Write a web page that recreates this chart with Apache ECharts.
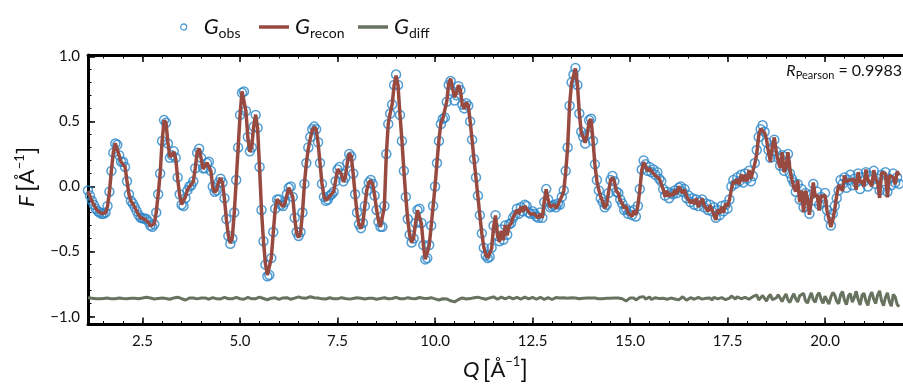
<!DOCTYPE html>
<html>
<head>
<meta charset="utf-8">
<script src="https://cdn.jsdelivr.net/npm/echarts@6/dist/echarts.min.js"></script>
<style>
  html, body { margin: 0; padding: 0; background: #fff; }
  #chart { width: 903px; height: 387px; }
</style>
</head>
<body>
<div id="chart"></div>
<script>
// Scattering data on a regular Q grid (Å^-1): first point and spacing
const Q_START = 1.10;
const Q_STEP = 0.05;

// Observed F(Q), one row per unit of Q (n.10 ... n+1.05)
const gObs = [
  -0.03,-0.07,-0.11,-0.14,-0.17,-0.19,-0.20,-0.21,-0.21,-0.20,-0.15,-0.04,0.12,0.26,0.33,0.32,0.24,0.19,0.19,0.15,
  0.04,-0.06,-0.11,-0.13,-0.16,-0.19,-0.22,-0.24,-0.245,-0.245,-0.25,-0.27,-0.30,-0.31,-0.29,-0.20,-0.06,0.10,0.35,0.51,
  0.49,0.33,0.22,0.24,0.27,0.22,0.07,-0.06,-0.14,-0.15,-0.09,-0.03,0.00,0.01,0.04,0.14,0.26,0.29,0.22,0.14,
  0.14,0.18,0.19,0.12,0.00,-0.04,-0.03,0.03,0.06,0.03,-0.09,-0.25,-0.38,-0.44,-0.40,-0.20,0.05,0.30,0.55,0.72,
  0.73,0.58,0.38,0.27,0.30,0.46,0.55,0.45,0.15,-0.18,-0.42,-0.60,-0.69,-0.68,-0.55,-0.35,-0.17,-0.10,-0.10,-0.14,
  -0.15,-0.12,-0.06,-0.01,0.00,-0.08,-0.24,-0.35,-0.38,-0.35,-0.20,0.02,0.18,0.30,0.38,0.44,0.46,0.44,0.34,0.18,
  0.02,-0.08,-0.11,-0.10,-0.07,-0.06,-0.04,0.04,0.13,0.15,0.10,0.04,0.07,0.18,0.25,0.23,0.10,-0.06,-0.20,-0.29,
  -0.32,-0.28,-0.15,-0.03,0.03,0.05,0.02,-0.07,-0.18,-0.27,-0.31,-0.31,-0.15,0.25,0.48,0.56,0.63,0.78,0.86,0.78,
  0.55,0.35,0.12,-0.08,-0.25,-0.37,-0.43,-0.40,-0.28,-0.18,-0.17,-0.28,-0.45,-0.56,-0.55,-0.45,-0.30,-0.15,0.00,0.18,
  0.35,0.48,0.52,0.53,0.65,0.78,0.81,0.73,0.66,0.70,0.77,0.74,0.63,0.60,0.64,0.62,0.50,0.36,0.21,0.07,
  -0.07,-0.22,-0.36,-0.47,-0.53,-0.55,-0.54,-0.47,-0.30,-0.22,-0.38,-0.42,-0.33,-0.41,-0.30,-0.37,-0.29,-0.28,-0.24,-0.22,
  -0.17,-0.21,-0.16,-0.19,-0.14,-0.15,-0.20,-0.21,-0.19,-0.21,-0.23,-0.24,-0.20,-0.24,-0.12,-0.02,-0.10,-0.16,-0.15,-0.14,
  -0.16,-0.13,-0.14,-0.08,-0.03,0.12,0.30,0.62,0.80,0.86,0.91,0.78,0.56,0.42,0.38,0.33,0.40,0.51,0.52,0.35,
  0.17,0.05,-0.03,-0.09,-0.12,-0.16,-0.14,-0.05,0.05,0.08,0.04,-0.04,-0.05,-0.10,-0.13,-0.18,-0.17,-0.21,-0.19,-0.22,
  -0.18,-0.23,-0.15,-0.02,0.13,0.20,0.17,0.12,0.15,0.11,0.13,0.09,0.11,0.06,0.04,-0.02,-0.07,-0.04,-0.09,-0.05,
  -0.06,-0.03,-0.05,-0.01,0.00,-0.04,-0.02,-0.09,-0.07,-0.12,-0.09,-0.14,-0.10,-0.15,-0.12,-0.10,-0.16,-0.13,-0.18,-0.14,
  -0.19,-0.16,-0.24,-0.18,-0.22,-0.15,-0.19,-0.14,-0.17,-0.10,0.00,0.05,0.02,0.07,0.04,0.09,0.03,0.10,0.06,0.12,
  0.04,0.08,0.18,0.28,0.38,0.44,0.47,0.42,0.34,0.28,0.22,0.30,0.36,0.27,0.22,0.16,0.24,0.12,0.18,0.25,
  0.10,0.06,0.03,-0.04,0.02,-0.10,-0.02,-0.16,-0.05,-0.13,-0.21,-0.06,0.02,-0.11,-0.04,-0.14,-0.08,-0.12,-0.05,-0.18,
  -0.24,-0.30,-0.21,-0.15,-0.09,-0.03,0.05,0.02,0.07,-0.01,0.05,0.09,0.01,0.06,0.03,0.10,-0.02,0.07,0.04,0.11,
  0.00,0.08,0.05,0.12,0.02,0.06,-0.03,0.09,0.04,0.11,-0.04,0.06,0.01,0.10,0.03,0.07,0.02
];

// Residual G_obs - G_recon on the same grid
const residual = [
  0.005,0.004,0.002,0.000,-0.002,-0.003,-0.003,-0.002,0.000,0.002,0.003,0.001,-0.003,-0.004,-0.002,0.001,0.003,0.002,0.000,-0.001,
  -0.002,-0.001,0.001,0.002,0.001,0.000,-0.002,0.000,0.003,0.006,0.009,0.008,0.003,-0.002,-0.004,-0.003,0.000,0.002,0.004,0.003,
  0.000,-0.004,-0.006,-0.002,0.004,0.008,0.010,0.006,-0.002,-0.010,-0.012,-0.005,0.003,0.006,0.004,0.000,-0.003,-0.001,0.003,0.006,
  0.004,-0.002,-0.006,0.000,0.007,0.005,-0.003,-0.008,-0.004,0.004,0.008,0.005,-0.002,-0.006,-0.003,0.004,0.009,0.006,-0.002,-0.010,
  -0.006,0.002,0.008,0.004,-0.003,-0.007,-0.002,0.006,0.010,0.007,0.000,-0.006,-0.010,-0.006,0.002,0.008,0.005,-0.002,-0.007,-0.003,
  0.004,0.009,0.006,-0.001,-0.006,-0.004,0.003,0.008,0.012,0.009,0.003,-0.002,0.002,0.008,0.013,0.010,0.005,0.002,0.004,0.001,
  -0.003,-0.006,-0.004,0.001,0.005,0.003,-0.002,-0.005,-0.003,0.002,0.006,0.004,0.000,-0.003,-0.005,-0.004,0.000,0.003,0.005,0.004,
  0.002,-0.002,-0.004,-0.003,0.001,0.004,0.002,-0.002,-0.006,-0.005,0.000,0.004,0.006,0.003,-0.002,-0.004,0.000,0.005,0.008,0.004,
  -0.002,-0.006,-0.003,0.002,0.006,0.004,0.000,-0.004,-0.002,0.003,0.007,0.005,0.001,-0.002,0.000,0.004,0.006,0.003,-0.003,-0.008,
  -0.012,-0.008,-0.002,0.003,-0.004,-0.012,-0.018,-0.022,-0.026,-0.018,-0.008,0.000,0.004,0.002,-0.004,-0.006,-0.001,0.004,0.006,0.008,
  0.010,0.006,0.001,-0.004,-0.006,-0.002,0.004,0.008,0.012,0.003,-0.006,0.005,0.010,0.002,-0.004,0.006,0.011,0.004,-0.003,0.005,
  0.009,0.002,-0.005,0.003,0.010,0.004,-0.004,0.002,0.008,0.001,-0.006,0.003,0.009,0.000,-0.007,0.002,0.006,-0.003,-0.008,0.001,
  0.007,0.012,0.004,-0.004,0.005,0.010,0.002,-0.006,0.006,0.012,0.004,-0.008,-0.002,0.007,0.002,-0.006,0.004,0.010,0.003,-0.005,
  0.004,0.008,-0.003,-0.010,-0.002,0.006,0.001,-0.008,0.002,0.010,0.004,-0.005,0.003,0.009,-0.002,-0.012,-0.020,-0.008,0.004,0.010,
  0.004,-0.012,-0.002,0.009,0.006,0.014,-0.005,0.001,0.011,-0.008,-0.003,0.006,0.013,-0.001,-0.010,0.002,0.009,-0.006,-0.012,0.003,
  0.010,-0.004,0.007,-0.011,0.002,0.013,0.004,-0.013,-0.002,0.006,0.015,-0.006,-0.010,0.008,0.003,-0.005,-0.015,0.001,0.011,0.004,
  -0.012,0.008,0.017,-0.003,-0.014,0.006,0.011,-0.009,-0.016,0.002,0.019,0.010,-0.004,0.013,0.024,-0.002,-0.011,0.009,0.021,-0.006,
  -0.019,0.014,0.005,0.027,-0.012,-0.004,0.022,0.008,-0.021,0.013,0.030,-0.009,-0.017,0.004,0.028,0.018,-0.024,0.010,0.035,-0.013,
  -0.031,0.007,0.036,-0.002,-0.027,0.021,0.012,0.039,-0.018,-0.036,0.008,0.043,-0.011,-0.029,0.024,0.045,-0.006,-0.038,0.017,0.003,
  -0.043,0.011,0.046,0.026,-0.022,-0.041,0.030,0.052,-0.015,-0.047,0.019,0.038,-0.028,0.007,0.055,-0.010,-0.049,0.024,0.041,-0.020,
  -0.053,0.016,0.048,-0.006,-0.039,0.027,0.058,-0.017,-0.055,0.009,0.044,-0.024,-0.060,0.031,0.012,-0.045,-0.064
];

// Vertical shift applied to the difference curve
const DIFF_OFFSET = -0.86;

// Axis tick labels
const xTicks = [2.5, 5.0, 7.5, 10.0, 12.5, 15.0, 17.5, 20.0];
const yTicks = [-1.0, -0.5, 0.0, 0.5, 1.0];
const R_PEARSON = '0.9983';

const X_MIN = 1.1, X_MAX = 22.0;
const Y_MIN = -1.06, Y_MAX = 1.01;

const BLUE = '#2a86c8';
const RED = '#984a40';
const GREY = '#67735f';
const FONT = 'Lato';

const qAt = i => Math.round((Q_START + i * Q_STEP) * 100) / 100;
const obsData = gObs.map((v, i) => [qAt(i), v]);
const reconData = gObs.map((v, i) => [qAt(i), +(v - residual[i]).toFixed(4)]);
const diffData = residual.map((r, i) => [qAt(i), +(r + DIFF_OFFSET).toFixed(4)]);

// minor tick positions
const xMinor = [];
for (let v = 1.5; v < X_MAX; v += 0.5) xMinor.push(Math.round(v * 10) / 10);
const yMinor = [];
for (let v = -1.0; v <= 1.0001; v += 0.1) yMinor.push(Math.round(v * 10) / 10);

const fmt = v => (v < 0 ? '\u2212' : '') + Math.abs(v).toFixed(1);

const legendRich = {
  g: { fontFamily: FONT, fontStyle: 'italic', fontSize: 22, color: '#111', lineHeight: 26 },
  s: { fontFamily: FONT, fontSize: 14, color: '#111', lineHeight: 13, verticalAlign: 'bottom' }
};
const legendNames = { obs: 'obs', recon: 'recon', diff: 'diff' };
const legendFormatter = name => '{g|G}{s|' + legendNames[name] + '}';

const titleRich = {
  it: { fontFamily: FONT, fontStyle: 'italic', fontSize: 22, color: '#111', lineHeight: 28 },
  t: { fontFamily: FONT, fontSize: 22, color: '#111', lineHeight: 28 },
  b: { fontFamily: FONT, fontSize: 25, color: '#111', lineHeight: 28 },
  sup: { fontFamily: FONT, fontSize: 13, color: '#111', lineHeight: 13, verticalAlign: 'top' }
};
const titleText = sym => '{it|' + sym + '} {b|[}{t|Å}{sup|\u22121}{b|]}';

const spine = { show: true, onZero: false, lineStyle: { color: '#000', width: 3 } };
const noSpine = { show: false, onZero: false };
const majorTick = (vals) => ({ show: true, inside: true, length: 7, lineStyle: { color: '#000', width: 1.5 }, customValues: vals });
const minorTick = (vals) => ({ show: true, inside: true, length: 3.5, lineStyle: { color: '#000', width: 1 }, customValues: vals });

const baseX = { type: 'value', min: X_MIN, max: X_MAX, gridIndex: 0, splitLine: { show: false } };
const baseY = { type: 'value', min: Y_MIN, max: Y_MAX, gridIndex: 0, splitLine: { show: false } };

const chart = echarts.init(document.getElementById('chart'), null, { renderer: 'canvas' });
chart.setOption({
  animation: false,
  backgroundColor: '#fff',
  grid: { left: 88, right: -8, top: 55, bottom: 61, containLabel: false },
  legend: [
    {
      data: [{ name: 'obs', icon: 'circle', itemStyle: { color: 'rgba(0,0,0,0)', borderColor: BLUE, borderWidth: 1.3 } }],
      left: 175, top: 11, itemWidth: 6, itemHeight: 6,
      formatter: legendFormatter,
      textStyle: { rich: legendRich, padding: [0, 0, 0, 12] }
    },
    {
      data: [{ name: 'recon', icon: 'rect' }],
      left: 254, top: 11, itemWidth: 30, itemHeight: 3.5,
      formatter: legendFormatter,
      textStyle: { rich: legendRich, padding: [0, 0, 0, 1] }
    },
    {
      data: [{ name: 'diff', icon: 'rect' }],
      left: 353, top: 11, itemWidth: 30, itemHeight: 3.5,
      formatter: legendFormatter,
      textStyle: { rich: legendRich, padding: [0, 0, 0, 1] }
    }
  ],
  xAxis: [
    Object.assign({}, baseX, {
      position: 'bottom', axisLine: spine, axisTick: majorTick(xTicks),
      axisLabel: { show: true, customValues: xTicks, formatter: fmt, margin: 9, fontFamily: FONT, fontSize: 15, color: '#111' },
      name: titleText('Q'), nameLocation: 'middle', nameGap: 31,
      nameTextStyle: { rich: titleRich }
    }),
    Object.assign({}, baseX, { position: 'bottom', axisLine: noSpine, axisTick: minorTick(xMinor), axisLabel: { show: false } }),
    Object.assign({}, baseX, { position: 'top', axisLine: spine, axisTick: majorTick(xTicks), axisLabel: { show: false } }),
    Object.assign({}, baseX, { position: 'top', axisLine: noSpine, axisTick: minorTick(xMinor), axisLabel: { show: false } })
  ],
  yAxis: [
    Object.assign({}, baseY, {
      position: 'left', axisLine: spine, axisTick: majorTick(yTicks),
      axisLabel: { show: true, customValues: yTicks, formatter: fmt, margin: 8, fontFamily: FONT, fontSize: 15, color: '#111' },
      name: titleText('F'), nameLocation: 'middle', nameGap: 46, nameRotate: 90,
      nameTextStyle: { rich: titleRich, padding: [0, 0, 0, 26] }
    }),
    Object.assign({}, baseY, { position: 'left', axisLine: noSpine, axisTick: minorTick(yMinor), axisLabel: { show: false } })
  ],
  graphic: [
    {
      type: 'text', right: 1, top: 63, z: 10,
      style: {
        text: '{it|R}{s|Pearson}{n| = ' + R_PEARSON + '}',
        rich: {
          it: { fontFamily: FONT, fontStyle: 'italic', fontSize: 16, fill: '#111', lineHeight: 20 },
          s: { fontFamily: FONT, fontSize: 11, fill: '#111', lineHeight: 11, verticalAlign: 'bottom' },
          n: { fontFamily: FONT, fontSize: 16, fill: '#111', lineHeight: 20 }
        }
      }
    }
  ],
  series: [
    {
      name: 'obs', type: 'scatter', xAxisIndex: 0, yAxisIndex: 0,
      data: obsData, symbol: 'circle', symbolSize: 9,
      itemStyle: { color: 'rgba(0,0,0,0)', borderColor: BLUE, borderWidth: 1.5 },
      z: 2, silent: true
    },
    {
      name: 'recon', type: 'line', xAxisIndex: 0, yAxisIndex: 0,
      data: reconData, showSymbol: false, symbol: 'none',
      lineStyle: { color: RED, width: 3.5 }, itemStyle: { color: RED },
      z: 3, silent: true
    },
    {
      name: 'diff', type: 'line', xAxisIndex: 0, yAxisIndex: 0,
      data: diffData, showSymbol: false, symbol: 'none',
      lineStyle: { color: GREY, width: 3 }, itemStyle: { color: GREY },
      z: 3, silent: true
    }
  ]
});
</script>
</body>
</html>
